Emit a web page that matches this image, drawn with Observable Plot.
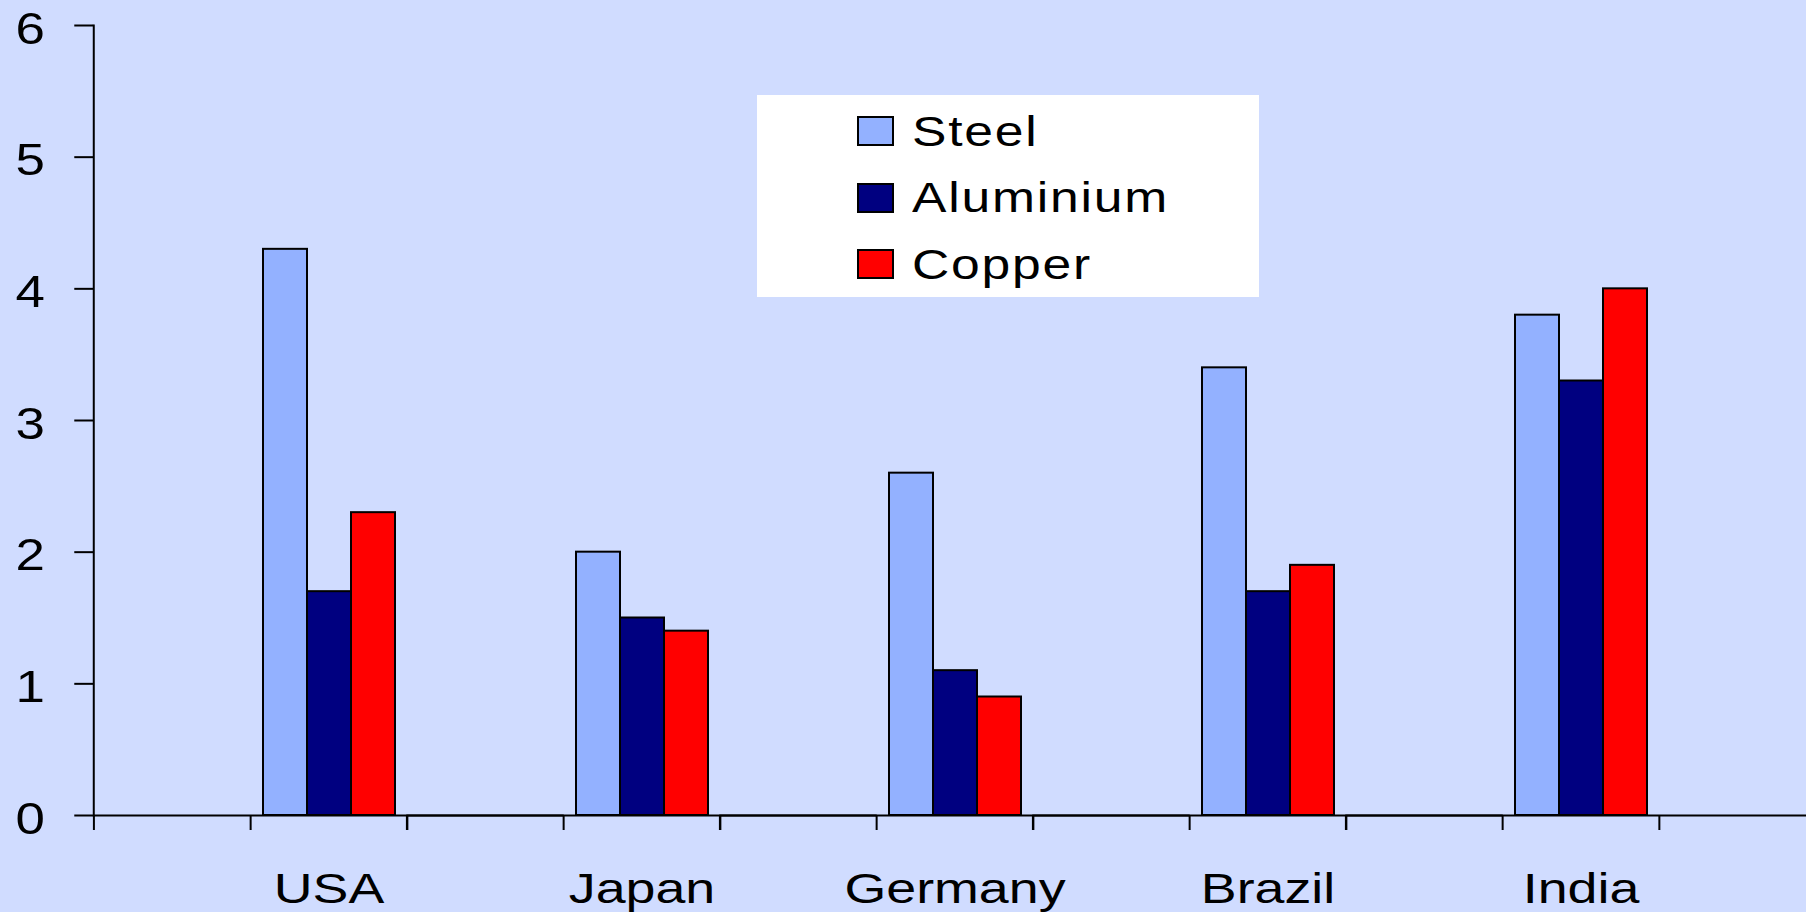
<!DOCTYPE html>
<html>
<head>
<meta charset="utf-8">
<script src="https://cdn.jsdelivr.net/npm/d3@7"></script>
<script src="https://cdn.jsdelivr.net/npm/@observablehq/plot@0.6"></script>
<style>
  html, body { margin: 0; padding: 0; background: #D0DCFF; }
  #wrap { position: relative; width: 1806px; height: 912px; overflow: hidden; background: #D0DCFF; }
  #wrap svg { position: absolute; left: 0; top: 0; max-width: none !important; }
  #wrap svg text { fill: #000; }
  #legend { position: absolute; left: 757px; top: 95px; width: 502px; height: 202px; background: #fff;
            font-family: "Liberation Sans", Arial, sans-serif; font-size: 43px; letter-spacing: 1.5px; color: #000;
            box-sizing: border-box; padding-top: 3px; }
  #legend .row { height: 66.5px; display: flex; align-items: center; padding-left: 100px; }
  #legend .sw { width: 33px; height: 26px; border: 2px solid #000; margin-right: 18px; flex: none; }
  #legend .tx { display: inline-block; transform: scaleX(1.2); transform-origin: left center; white-space: nowrap; }
</style>
</head>
<body>
<div id="wrap"></div>
<script>
const countries = ["USA", "Japan", "Germany", "Brazil", "India"];
const metals = ["Steel", "Aluminium", "Copper"];
const steel = [4.3, 2.0, 2.6, 3.4, 3.8];
const aluminium = [1.7, 1.5, 1.1, 1.7, 3.3];
const copper = [2.3, 1.4, 0.9, 1.9, 4.0];
const yTicks = [0, 1, 2, 3, 4, 5, 6];
const colors = ["#93B1FF", "#000080", "#FF0000"];

const series = [steel, aluminium, copper];
const table = [];
countries.forEach((c, i) => metals.forEach((m, j) => table.push({country: c, metal: m, value: series[j][i]})));

const W = 1816, ML = 92, MR = 0;
const fxPad = 0.5;
const fxStep = (W - ML - MR) / (countries.length - fxPad + 2 * fxPad);
const bw = fxStep * (1 - fxPad);

const chart = Plot.plot({
  width: W, height: 912,
  marginLeft: ML, marginRight: MR, marginTop: 25, marginBottom: 97,
  style: {background: "transparent", fontFamily: "'Liberation Sans', Arial, sans-serif", color: "#000", overflow: "visible", maxWidth: "none"},
  fx: {domain: countries, paddingInner: fxPad, paddingOuter: fxPad, label: null},
  x: {domain: metals, paddingInner: 0, paddingOuter: 0.26, axis: null},
  y: {domain: [0, 6], axis: null},
  color: {domain: metals, range: colors},
  marks: [
    Plot.barY(table, {fx: "country", x: "metal", y: "value", fill: "metal", stroke: "#000", strokeWidth: 2}),
    Plot.ruleY([0], {stroke: "#000", strokeWidth: 2, insetLeft: -bw, insetRight: -bw}),
    Plot.frame({anchor: "left", facet: "super", stroke: "#000", strokeWidth: 2, dx: -bw}),
    Plot.axisY({ticks: yTicks, text: null, tickSize: 19, strokeWidth: 2, dx: -bw, label: null}),
    Plot.axisY({ticks: yTicks, tickSize: 0, tickPadding: 49, fontSize: 44, dy: 4, dx: -bw, label: null, className: "ylbl", tickFormat: d => String(d)}),
    Plot.axisFx({anchor: "bottom", text: null, tickSize: 15, strokeWidth: 2, dx: -bw / 2, label: null}),
    Plot.axisFx({anchor: "bottom", text: null, tickSize: 15, strokeWidth: 2, dx: bw / 2, label: null}),
    Plot.axisFx({anchor: "bottom", text: null, tickSize: 15, strokeWidth: 2, dx: -1.5 * bw, label: null}),
    Plot.axisFx({anchor: "bottom", tickSize: 0, tickPadding: 58, fontSize: 42, className: "lbl", label: null})
  ]
});
document.getElementById("wrap").appendChild(chart);

// the original's lettering is horizontally stretched
function stretch(sel, k) {
  chart.querySelectorAll(sel).forEach(t => {
    const len = t.getComputedTextLength();
    if (len > 0) {
      t.setAttribute("textLength", (len * k).toFixed(1));
      t.setAttribute("lengthAdjust", "spacingAndGlyphs");
    }
  });
}
stretch(".lbl text", 1.28);
stretch(".ylbl text", 1.2);

const legend = document.createElement("div");
legend.id = "legend";
metals.forEach((m, j) => {
  const row = document.createElement("div");
  row.className = "row";
  const sw = document.createElement("span");
  sw.className = "sw";
  sw.style.background = colors[j];
  const t = document.createElement("span");
  t.className = "tx";
  t.textContent = m;
  row.appendChild(sw); row.appendChild(t);
  legend.appendChild(row);
});
document.getElementById("wrap").appendChild(legend);
</script>
</body>
</html>
